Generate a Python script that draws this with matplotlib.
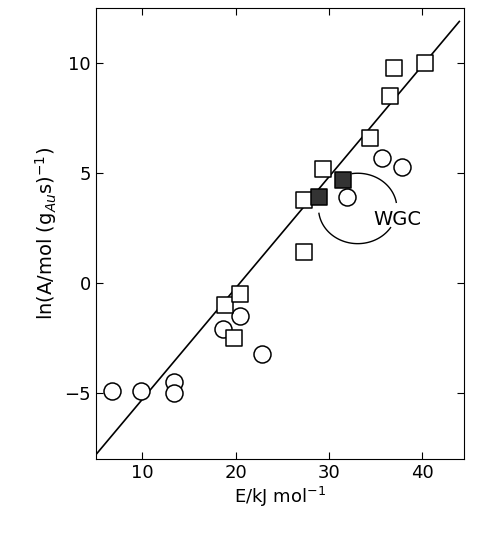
import matplotlib
matplotlib.use('Agg')
import matplotlib.pyplot as plt
import numpy as np

# circles
cx = [6.7, 9.9, 13.4, 13.4, 18.6, 20.5, 22.8, 32.0, 35.7, 37.8]
cy = [-4.9, -4.9, -4.5, -5.0, -2.1, -1.5, -3.2, 3.9, 5.7, 5.3]
# open squares
sx = [18.9, 20.5, 19.8, 27.3, 27.3, 29.4, 34.4, 36.6, 37.0, 40.3]
sy = [-1.0, -0.5, -2.5, 1.4, 3.8, 5.2, 6.6, 8.5, 9.8, 10.0]
# filled squares (WGC)
fx = [29.0, 31.5]
fy = [3.9, 4.7]
line_x = [5.0, 44.0]
line_y = [-7.8, 11.9]

fig, ax = plt.subplots(figsize=(4.91, 5.5), dpi=100)
fig.subplots_adjust(left=0.195, right=0.945, bottom=0.165, top=0.985)

ax.plot(line_x, line_y, 'k', linewidth=1.2)
ax.scatter(cx, cy, s=150, facecolors='white', edgecolors='k', linewidths=1.1, zorder=3)
ax.scatter(sx, sy, s=130, marker='s', facecolors='white', edgecolors='k', linewidths=1.1, zorder=3)
ax.scatter(fx, fy, s=130, marker='s', facecolors='#333333', edgecolors='k', linewidths=1.1, zorder=3)

# broken loop around the WGC label
for a0, a1 in [(188, 327), (10, 98)]:
    t = np.radians(np.linspace(a0, a1, 60))
    ax.plot(33.1 + 4.2 * np.cos(t), 3.4 + 1.6 * np.sin(t), 'k', linewidth=1)
ax.text(37.3, 2.9, 'WGC', fontsize=14, ha='center', va='center')

ax.set_xlim(5, 44.5)
ax.set_ylim(-8, 12.5)
ax.set_xticks([10, 20, 30, 40])
ax.set_yticks([-5, 0, 5, 10])
ax.tick_params(direction='in', labelsize=13, length=5, right=True, top=True)
ax.set_xlabel('E/kJ mol$^{-1}$', fontsize=13, labelpad=2)
ax.set_ylabel('ln(A/mol (g$_{Au}$s)$^{-1}$)', fontsize=14)

fig.savefig('out.png', dpi=100)
